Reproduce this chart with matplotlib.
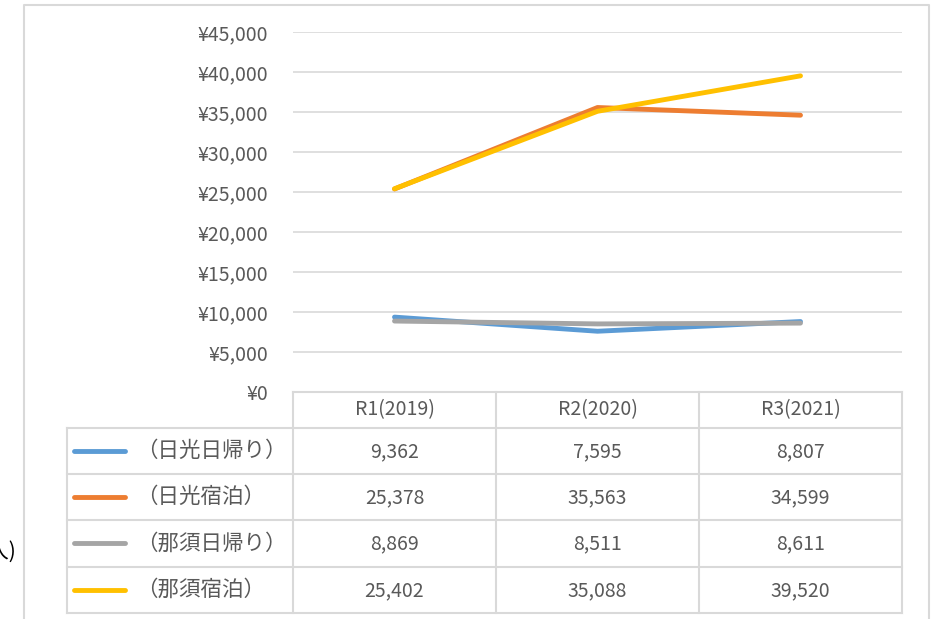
import matplotlib
matplotlib.use("Agg")
import matplotlib.pyplot as plt
from matplotlib.ticker import FuncFormatter, MultipleLocator

plt.rcParams["font.family"] = ["Noto Sans CJK JP", "DejaVu Sans"]

# ---------------------------------------------------------------------------
# Data
# ---------------------------------------------------------------------------
categories = ["R1(2019)", "R2(2020)", "R3(2021)"]
series_names = ["（日光日帰り）", "（日光宿泊）", "（那須日帰り）", "（那須宿泊）"]
nikko_day = [9362, 7595, 8807]
nikko_stay = [25378, 35563, 34599]
nasu_day = [8869, 8511, 8611]
nasu_stay = [25402, 35088, 39520]
series_values = [nikko_day, nikko_stay, nasu_day, nasu_stay]
colors = ["#5B9BD5", "#ED7D31", "#A5A5A5", "#FFC000"]

TEXT = "#595959"
GRID = "#D9D9D9"
FS = 14

# ---------------------------------------------------------------------------
# Layout (pixels)
# ---------------------------------------------------------------------------
W, H = 933, 619
PL, PR, PT, PB = 293, 902, 32, 392
TL = 67
row_edges = [392, 427.5, 473.5, 520, 566.5, 612.5]
col_edges = [293, 496, 699, 902]

fig = plt.figure(figsize=(W / 100, H / 100), dpi=100)

ov = fig.add_axes([0, 0, 1, 1])
ov.set_xlim(0, W)
ov.set_ylim(H, 0)
ov.axis("off")

ax = fig.add_axes([PL / W, 1 - PB / H, (PR - PL) / W, (PB - PT) / H])
ax.set_facecolor("none")

# ---------------------------------------------------------------------------
# Line chart
# ---------------------------------------------------------------------------
xs = list(range(len(categories)))
for vals, c in zip(series_values, colors):
    ax.plot(xs, vals, color=c, lw=3.5, solid_capstyle="round",
            solid_joinstyle="round", zorder=3)

ax.set_xlim(-0.5, len(categories) - 0.5)
ax.set_ylim(0, 45000)
ax.yaxis.set_major_locator(MultipleLocator(5000))
ax.yaxis.set_major_formatter(FuncFormatter(lambda v, p: f"¥{int(v):,}"))
ax.set_xticks([])
ax.grid(axis="y", color=GRID, lw=1.2)
for s in ax.spines.values():
    s.set_visible(False)
ax.tick_params(axis="y", length=0, pad=18, labelsize=FS, labelcolor=TEXT)

# ---------------------------------------------------------------------------
# Data table
# ---------------------------------------------------------------------------
lc = dict(color=GRID, lw=1.5)
ov.plot([col_edges[0], col_edges[-1]], [row_edges[0]] * 2, **lc)
for y in row_edges[1:]:
    ov.plot([TL, col_edges[-1]], [y, y], **lc)
for x in col_edges:
    ov.plot([x, x], [row_edges[0], row_edges[-1]], **lc)
ov.plot([TL, TL], [row_edges[1], row_edges[-1]], **lc)

hy = (row_edges[0] + row_edges[1]) / 2
for i, cat in enumerate(categories):
    cx = (col_edges[i] + col_edges[i + 1]) / 2
    ov.text(cx, hy, cat, ha="center", va="center", fontsize=FS, color=TEXT)

for r, (name, vals, c) in enumerate(zip(series_names, series_values, colors)):
    cy = (row_edges[r + 1] + row_edges[r + 2]) / 2
    ov.plot([74, 125], [cy, cy], color=c, lw=3.5, solid_capstyle="round")
    ov.text(136, cy, name, ha="left", va="center", fontsize=15.5, color=TEXT)
    for i, v in enumerate(vals):
        cx = (col_edges[i] + col_edges[i + 1]) / 2
        ov.text(cx, cy + 1, f"{v:,}", ha="center", va="center",
                fontsize=FS, color=TEXT)

# outer chart border (cut off at the bottom of the picture)
ov.plot([24, 24, 929, 929], [H + 5, 5, 5, H + 5], color=GRID, lw=1.5)

# unit label, cropped at the left edge as in the source picture
ov.text(16, 553, "（人)", ha="right", va="center", fontsize=15, color="black")

fig.savefig("out.png", dpi=100)
